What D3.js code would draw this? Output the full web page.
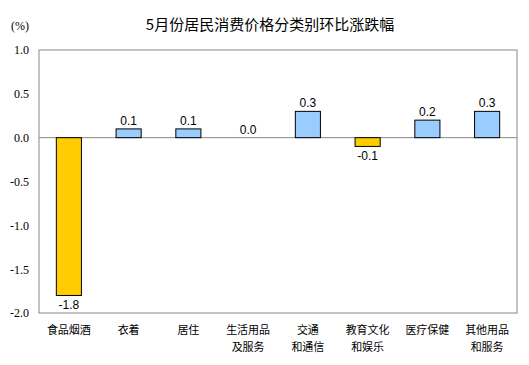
<!DOCTYPE html>
<html><head><meta charset="utf-8">
<script src="https://cdn.jsdelivr.net/npm/d3@7"></script>
<style>body{margin:0;background:#fff}</style>
</head><body>
<svg id="c" width="529" height="365"></svg>
<script>
const categories = [["食品烟酒"],["衣着"],["居住"],["生活用品","及服务"],["交通","和通信"],["教育文化","和娱乐"],["医疗保健"],["其他用品","和服务"]];
const values = [-1.8, 0.1, 0.1, 0.0, 0.3, -0.1, 0.2, 0.3];
const tickValues = [1.0, 0.5, 0.0, -0.5, -1.0, -1.5, -2.0];
const title = "5月份居民消费价格分类别环比涨跌幅";
const unit = "(%)";

const svg = d3.select("#c");
const L = 39, R = 517, T = 50, B = 313;
const x = d3.scaleBand().domain(d3.range(categories.length)).range([L, R]).paddingInner(0.58).paddingOuter(0.29);
const y = d3.scaleLinear().domain([-2, 1]).range([B, T]);

svg.append("text").attr("x", 270).attr("y", 30).attr("text-anchor", "middle")
  .attr("font-family", "Noto Sans CJK SC").attr("font-size", 15).attr("fill", "#000").text(title);
svg.append("text").attr("x", 11).attr("y", 30)
  .attr("font-family", "Liberation Serif").attr("font-size", 12).attr("fill", "#000").text(unit);

// frame
svg.append("rect").attr("x", L).attr("y", T).attr("width", R - L).attr("height", B - T)
  .attr("fill", "none").attr("stroke", "#888").attr("stroke-width", 1);

// y axis labels
const ax = d3.axisLeft(y).tickValues(tickValues).tickFormat(d3.format(".1f")).tickSize(0).tickPadding(10);
const g = svg.append("g").attr("transform", `translate(${L},0)`).call(ax);
g.select(".domain").remove();
g.selectAll("text").attr("font-family", "Liberation Serif").attr("font-size", 12).attr("fill", "#000")
  .text(d => d3.format(".1f")(d).replace("−", "-"));

// zero line
svg.append("line").attr("x1", L).attr("x2", R).attr("y1", y(0)).attr("y2", y(0))
  .attr("stroke", "#888").attr("stroke-width", 1);

// bars
svg.selectAll("rect.bar").data(values).join("rect").attr("class", "bar")
  .attr("x", (d, i) => x(i)).attr("width", x.bandwidth())
  .attr("y", d => y(Math.max(0, d))).attr("height", d => Math.abs(y(d) - y(0)))
  .attr("fill", d => d < 0 ? "#FFCC00" : "#99CCFF")
  .attr("stroke", d => d === 0 ? "none" : "#000").attr("stroke-width", 1);

// value labels
svg.selectAll("text.val").data(values).join("text").attr("class", "val")
  .attr("x", (d, i) => x(i) + x.bandwidth() / 2)
  .attr("y", d => d < 0 ? y(d) + 14 : y(d) - 4)
  .attr("text-anchor", "middle").attr("font-family", "Liberation Sans").attr("font-size", 12).attr("fill", "#000")
  .text(d => d3.format(".1f")(d).replace("−", "-"));

// category labels
categories.forEach((c, i) => {
  const t = svg.append("text").attr("x", x(i) + x.bandwidth() / 2).attr("y", 334)
    .attr("text-anchor", "middle").attr("font-family", "Noto Sans CJK SC").attr("font-size", 11).attr("fill", "#000");
  c.forEach((line, k) => t.append("tspan").attr("x", x(i) + x.bandwidth() / 2).attr("dy", k === 0 ? 0 : 17).text(line));
});
</script>
</body></html>
